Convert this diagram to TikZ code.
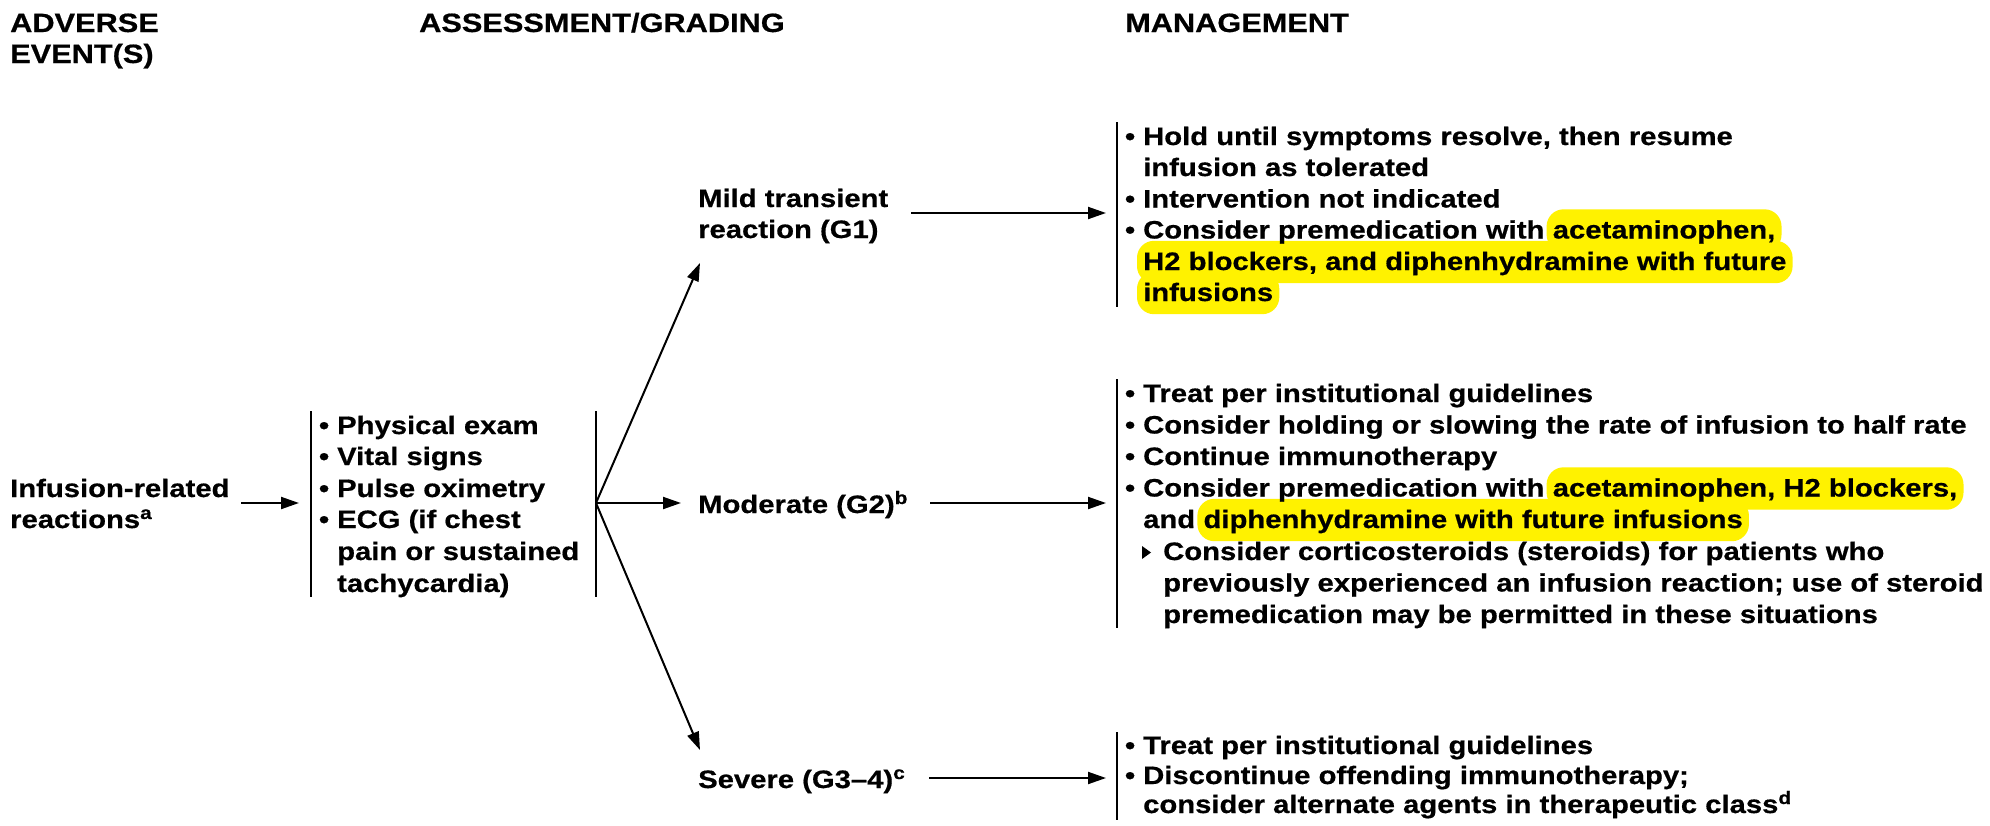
\documentclass[tikz,border=0pt]{standalone}
\usepackage{fontspec}
\setmainfont{Liberation Sans}[FakeStretch=1.16,BoldFeatures={FakeBold=0.6}]
\usetikzlibrary{arrows.meta}

\newcommand{\bodyfont}{\fontsize{25.2}{31.5}\selectfont\bfseries}
\newcommand{\headfont}{\fontsize{26.5}{31}\selectfont\bfseries}
\newcommand{\supr}[1]{\raisebox{9pt}{\fontsize{18}{18}\selectfont #1}}
\newcommand{\bul}{\llap{•\hspace{8pt}}}

\pgfdeclarelayer{bg}
\pgfsetlayers{bg,main}

\begin{document}
\begin{tikzpicture}[x=1pt,y=-1pt,
  txt/.style={anchor=base west, inner sep=0pt, font=\bodyfont},
  head/.style={anchor=base west, inner sep=0pt, font=\headfont},
  hl/.style={anchor=base west, inner xsep=6pt, inner ysep=0pt,
             text height=29pt, text depth=13pt, font=\bodyfont},
  hlfill/.style={fill=yellow, rounded corners=17pt},
  bar/.style={line width=2pt},
  arr/.style={line width=2pt, -{Triangle[length=18pt,width=12pt]}}]

\begin{pgfonlayer}{bg}
  \fill[white] (0,0) rectangle (1990,825);
\end{pgfonlayer}
\useasboundingbox (0,0) rectangle (1990,825);

% column headings
\node[head] (hAe1) at (10,32) {ADVERSE};
\node[head] (hAe2) at (10,63) {EVENT(S)};
\node[head] (hAg) at (419,32) {ASSESSMENT/GRADING};
\node[head] (hMg) at (1125,32) {MANAGEMENT};

% adverse event
\node[txt] (ev1) at (10,497) {Infusion-related};
\node[txt] (ev2) at (10,528) {reactions\supr{a}};

% assessment block
\coordinate (asLt) at (311,411); \coordinate (asLb) at (311,597);
\coordinate (asRt) at (596,411); \coordinate (asRb) at (596,597);
\draw[bar] (asLt) -- (asLb);
\draw[bar] (asRt) -- (asRb);
\node[txt] (as1) at (337,434) {\bul Physical exam};
\node[txt] (as2) at (337,465) {\bul Vital signs};
\node[txt] (as3) at (337,497) {\bul Pulse oximetry};
\node[txt] (as4) at (337,528) {\bul ECG (if chest};
\node[txt] (as5) at (337,560) {pain or sustained};
\node[txt] (as6) at (337,592) {tachycardia)};

\coordinate (evOut) at (241,503); \coordinate (asIn) at (299,503);
\draw[arr] (evOut) -- (asIn);

% grades
\node[txt] (g1a) at (698,207) {Mild transient};
\node[txt] (g1b) at (698,238) {reaction (G1)};
\node[txt] (g2) at (698,513) {Moderate (G2)\supr{b}};
\node[txt] (g3) at (698,788) {Severe (G3–4)\supr{c}};

\coordinate (fork) at (596,503);
\coordinate (tipG1) at (700,263);
\coordinate (tipG2) at (681,503);
\coordinate (tipG3) at (700,750);
\draw[arr] (fork) -- (tipG1);
\draw[arr] (fork) -- (tipG2);
\draw[arr] (fork) -- (tipG3);

\coordinate (g1out) at (911,213); \coordinate (g1in) at (1106,213);
\coordinate (g2out) at (930,503); \coordinate (g2in) at (1106,503);
\coordinate (g3out) at (929,778); \coordinate (g3in) at (1106,778);
\draw[arr] (g1out) -- (g1in);
\draw[arr] (g2out) -- (g2in);
\draw[arr] (g3out) -- (g3in);

% management: mild
\coordinate (m1t) at (1117,122); \coordinate (m1b) at (1117,307);
\draw[bar] (m1t) -- (m1b);
\node[txt] (m1a) at (1143,145) {\bul Hold until symptoms resolve, then resume};
\node[txt] (m1b2) at (1143,176) {infusion as tolerated};
\node[txt] (m1c) at (1143,207.5) {\bul Intervention not indicated};
\node[txt] (m1d) at (1143,238.5) {\bul Consider premedication with};
\node[hl] (m1dh) at ([xshift=2pt]m1d.base east) {acetaminophen,};
\node[hl] (m1e) at (1137,270) {H2 blockers, and diphenhydramine with future};
\node[hl] (m1f) at (1137,301) {infusions};

% management: moderate
\coordinate (m2t) at (1117,379); \coordinate (m2b) at (1117,628);
\draw[bar] (m2t) -- (m2b);
\node[txt] (m2a) at (1143,402) {\bul Treat per institutional guidelines};
\node[txt] (m2c) at (1143,433.5) {\bul Consider holding or slowing the rate of infusion to half rate};
\node[txt] (m2d) at (1143,465) {\bul Continue immunotherapy};
\node[txt] (m2e) at (1143,496.5) {\bul Consider premedication with};
\node[hl] (m2eh) at ([xshift=2pt]m2e.base east) {acetaminophen, H2 blockers,};
\node[txt] (m2f) at (1143,528) {and};
\node[hl] (m2fh) at ([xshift=2pt]m2f.base east) {diphenhydramine with future infusions};
\fill (1142,546) -- (1142,559) -- (1151,552.5) -- cycle;
\node[txt] (m2g) at (1163,560) {Consider corticosteroids (steroids) for patients who};
\node[txt] (m2h) at (1163,591.5) {previously experienced an infusion reaction; use of steroid};
\node[txt] (m2i) at (1163,623) {premedication may be permitted in these situations};

% management: severe
\coordinate (m3t) at (1117,732); \coordinate (m3b) at (1117,820);
\draw[bar] (m3t) -- (m3b);
\node[txt] (m3a) at (1143,754) {\bul Treat per institutional guidelines};
\node[txt] (m3c) at (1143,784) {\bul Discontinue offending immunotherapy;};
\node[txt] (m3d) at (1143,813) {consider alternate agents in therapeutic class\supr{d}};

% highlighter marks behind the text
\begin{pgfonlayer}{bg}
  \foreach \h in {m1dh,m1e,m1f,m2eh,m2fh}
    \fill[hlfill] (\h.north west) rectangle (\h.south east);
\end{pgfonlayer}
\end{tikzpicture}
\end{document}
